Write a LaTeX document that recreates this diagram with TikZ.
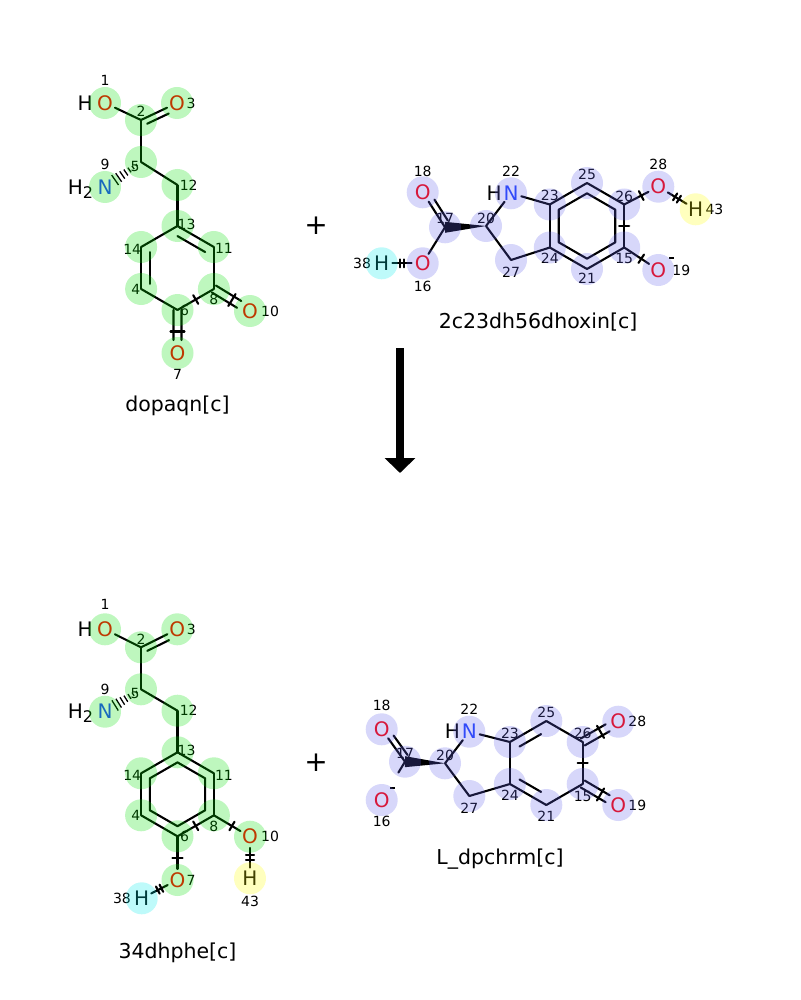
\documentclass[tikz,border=0pt]{standalone}
\usepackage{fontspec}
\setmainfont{DejaVu Sans}
\usetikzlibrary{positioning,calc,arrows.meta}

\definecolor{hlgreen}{RGB}{0,224,0}
\definecolor{hlblue}{RGB}{98,98,235}
\definecolor{hlcyan}{RGB}{0,235,235}
\definecolor{hlyellow}{RGB}{255,255,0}
\definecolor{oxy}{RGB}{255,0,0}
\definecolor{nit}{RGB}{33,66,255}

% second line of a double bond: from, to, cut at from, cut at to, offset
\newcommand\dline[5]{\draw[bond] ($(#1)!#3!(#2)!#5!90:(#2)$) -- ($(#2)!#4!(#1)!#5!-90:(#1)$);}
% marks across a bond
\newcommand\bmark[3][5pt]{\draw[bond] ($(#2)!0.5!(#3)!#1!90:(#3)$) -- ($(#2)!0.5!(#3)!#1!-90:(#3)$);}
\newcommand\bmarks[2]{\foreach \f in {0.45,0.55}
  \draw[bond] ($(#1)!\f!(#2)!4pt!90:(#2)$) -- ($(#1)!\f!(#2)!4pt!-90:(#2)$);}
% wedges
\newcommand\hashbond[2]{\foreach \f/\w in {0.12/1.2,0.22/2,0.32/2.8,0.42/3.6,0.52/4.4,0.62/5.2,0.72/6}
  \draw[line width=1.3pt] ($(#1)!\f!(#2)!\w pt!90:(#2)$) -- ($(#1)!\f!(#2)!\w pt!-90:(#2)$);}
\newcommand\wedgebond[2]{\fill ($(#1)$) -- ($(#2)!5.5pt!90:(#1)$) -- ($(#2)!5.5pt!-90:(#1)$) -- cycle;}
% negative charge
\newcommand\chg{\rule{5pt}{1.8pt}}

\begin{document}
\begin{tikzpicture}[x=1pt,y=1pt,
    atom/.style={circle,inner sep=0pt,minimum size=21pt,font=\fontsize{20}{20}\selectfont},
    catom/.style={circle,inner sep=0pt,minimum size=0pt},
    htext/.style={inner sep=0pt,font=\fontsize{20}{20}\selectfont},
    num/.style={inner sep=0pt,anchor=center,text=black,font=\fontsize{14}{14}\selectfont},
    lab/.style args={#1:#2:#3}{label={[num,label distance=#2pt]#1:#3}},
    bond/.style={line width=2.1pt,line cap=round,line join=round},
    molname/.style={font=\fontsize{20.5}{20.5}\selectfont},
    plus/.style={font=\fontsize{28}{28}\selectfont}]
  \useasboundingbox (0,0) rectangle (800,-1000);

  % dopaqn[c]
  \begin{scope}[name prefix=a-]
    \node[atom,text=oxy,lab=90:12:1] (1) at (105,-103) {O};
    \node[catom,lab=90:8:2] (2) at (141,-120) {};
    \node[atom,text=oxy,lab=0:3:3] (3) at (177,-103) {O};
    \node[catom,lab=215:7:5] (5) at (141,-162) {};
    \node[atom,text=nit,lab=90:12:9] (9) at (105,-187) {N};
    \node[catom,lab=0:11:12] (12) at (177.5,-185) {};
    \node[catom,lab=10:9:13] (13) at (177.5,-226) {};
    \node[catom,lab=-10:10:11] (11) at (213.9,-247) {};
    \node[catom,lab=270:10:8] (8) at (213.9,-289) {};
    \node[catom,lab=0:7:6] (6) at (177.5,-310) {};
    \node[catom,lab=180:5:4] (4) at (141.1,-289) {};
    \node[catom,lab=195:9:14] (14) at (141.1,-247) {};
    \node[atom,text=oxy,lab=270:10:7] (7) at (177.5,-353) {O};
    \node[atom,text=oxy,lab=0:9:10] (10) at (250,-311) {O};
    \node[htext] (1h) [left=1pt of 1] {H};
    \node[htext] (9h) [left=1pt of 9] {H\raisebox{-4pt}[0pt][0pt]{\fontsize{16}{16}\selectfont 2}};
    \coordinate (rc) at (177.5,-268);

    \path[bond] (1) edge (2) (2) edge (3) (2) edge (5) (5) edge (12) (12) edge (13)
      (13) edge (11) (13) edge (14) (14) edge (4) (4) edge (6) (6) edge (8) (8) edge (11);
    \dline{2}{3}{0.1}{0.3}{-6pt}
    \draw[bond] ($(rc)!0.76!(13)$) -- ($(rc)!0.76!(11)$);
    \draw[bond] ($(rc)!0.76!(14)$) -- ($(rc)!0.76!(4)$);
    \dline{6}{7}{0}{0.3}{4pt} \dline{6}{7}{0}{0.3}{-4pt}
    \dline{8}{10}{0}{0.3}{4pt} \dline{8}{10}{0}{0.3}{-4pt}
    \bmark{6}{8} \bmark[7pt]{6}{7} \bmark[7pt]{8}{10}
    \hashbond{5}{9}

    \begin{scope}[transparency group,opacity=0.255]
      \foreach \n in {1,...,14} \fill[hlgreen] (\n) circle (16pt);
    \end{scope}
  \end{scope}

  % 2c23dh56dhoxin[c]
  \begin{scope}[name prefix=b-]
    \node[atom,text=oxy,lab=90:10:18] (18) at (422.7,-192.3) {O};
    \node[catom,lab=90:9:17] (17) at (445,-227.3) {};
    \node[atom,text=oxy,lab=270:12:16] (16) at (422.7,-263.3) {O};
    \node[atom,lab=180:9:38] (38) at (381.7,-263.3) {H};
    \node[catom,lab=90:7:20] (20) at (486,-226) {};
    \node[atom,text=nit,lab=90:11:22] (22) at (511,-193.3) {N};
    \node[catom,lab=270:12:27] (27) at (511,-260) {};
    \node[catom,lab=90:9:23] (23) at (549.8,-204.5) {};
    \node[catom,lab=90:8:25] (25) at (587,-183) {};
    \node[catom,lab=90:8:26] (26) at (624.2,-204.5) {};
    \node[catom,lab=270:11:15] (15) at (624.2,-247.5) {};
    \node[catom,lab=270:9:21] (21) at (587,-269) {};
    \node[catom,lab=270:11:24] (24) at (549.8,-247.5) {};
    \node[atom,text=oxy,lab=90:11:28] (28) at (658.3,-186.7) {O};
    \node[atom,lab=0:8:43] (43) at (695.7,-209.3) {H};
    \node[atom,text=oxy,lab=0:12:19,lab=42:7:\chg] (19) at (658.3,-270) {O};
    \node[htext] (22h) [left=-1.5pt of 22] {H};
    \coordinate (rc) at (587,-226);

    \path[bond] (17) edge (18) (17) edge (16) (16) edge (38) (20) edge (22) (20) edge (27)
      (27) edge (24) (22) edge (23) (23) edge (25) (25) edge (26) (26) edge (15)
      (15) edge (21) (21) edge (24) (24) edge (23) (26) edge (28) (28) edge (43) (15) edge (19);
    \dline{17}{18}{0.1}{0.3}{-6pt}
    \draw[bond] ($(rc)!0.76!(23)$) -- ($(rc)!0.76!(25)$) -- ($(rc)!0.76!(26)$)
      -- ($(rc)!0.76!(15)$) -- ($(rc)!0.76!(21)$) -- ($(rc)!0.76!(24)$) -- cycle;
    \wedgebond{20}{17}
    \bmarks{16}{38} \bmarks{28}{43}
    \bmark{26}{28} \bmark{26}{15} \bmark{15}{19}

    \begin{scope}[transparency group,opacity=0.255]
      \foreach \n in {15,...,28} \fill[hlblue] (\n) circle (16pt);
      \fill[hlcyan] (38) circle (16pt);
      \fill[hlyellow] (43) circle (16pt);
    \end{scope}
  \end{scope}

  % 34dhphe[c]
  \begin{scope}[name prefix=c-]
    \node[atom,text=oxy,lab=90:14:1] (1) at (105,-629.3) {O};
    \node[catom,lab=90:8:2] (2) at (141,-647.3) {};
    \node[atom,text=oxy,lab=0:3:3] (3) at (177.3,-629.3) {O};
    \node[catom,lab=215:7:5] (5) at (141,-689.3) {};
    \node[atom,text=nit,lab=90:12:9] (9) at (105,-711.7) {N};
    \node[catom,lab=0:11:12] (12) at (177.5,-710.7) {};
    \node[catom,lab=10:9:13] (13) at (177.5,-752.3) {};
    \node[catom,lab=-10:10:11] (11) at (213.9,-773.3) {};
    \node[catom,lab=270:11:8] (8) at (213.9,-815.3) {};
    \node[catom,lab=0:7:6] (6) at (177.5,-836.3) {};
    \node[catom,lab=180:5:4] (4) at (141.1,-815.3) {};
    \node[catom,lab=195:9:14] (14) at (141.1,-773.3) {};
    \node[atom,text=oxy,lab=0:2.5:7] (7) at (177.5,-880) {O};
    \node[atom,text=oxy,lab=0:9:10] (10) at (250,-836.7) {O};
    \node[atom,lab=180:9:38] (38) at (141.7,-898.3) {H};
    \node[atom,lab=270:12:43] (43) at (250,-878.3) {H};
    \node[htext] (1h) [left=1pt of 1] {H};
    \node[htext] (9h) [left=1pt of 9] {H\raisebox{-4pt}[0pt][0pt]{\fontsize{16}{16}\selectfont 2}};
    \coordinate (rc) at (177.5,-794.3);

    \path[bond] (1) edge (2) (2) edge (3) (2) edge (5) (5) edge (12) (12) edge (13)
      (13) edge (11) (11) edge (8) (8) edge (6) (6) edge (4) (4) edge (14) (14) edge (13)
      (6) edge (7) (7) edge (38) (8) edge (10) (10) edge (43);
    \dline{2}{3}{0.1}{0.3}{-6pt}
    \draw[bond] ($(rc)!0.76!(13)$) -- ($(rc)!0.76!(11)$) -- ($(rc)!0.76!(8)$)
      -- ($(rc)!0.76!(6)$) -- ($(rc)!0.76!(4)$) -- ($(rc)!0.76!(14)$) -- cycle;
    \bmark{6}{8} \bmark{6}{7} \bmark{8}{10}
    \bmarks{7}{38} \bmarks{10}{43}
    \hashbond{5}{9}

    \begin{scope}[transparency group,opacity=0.255]
      \foreach \n in {1,...,14} \fill[hlgreen] (\n) circle (16pt);
      \fill[hlcyan] (38) circle (16pt);
      \fill[hlyellow] (43) circle (16pt);
    \end{scope}
  \end{scope}

  % L_dpchrm[c]
  \begin{scope}[name prefix=d-]
    \node[atom,text=oxy,lab=90:13:18] (18) at (381.7,-729.3) {O};
    \node[catom,lab=90:8:17] (17) at (405,-761.7) {};
    \node[atom,text=oxy,lab=270:10:16,lab=47:5:\chg] (16) at (381.7,-800) {O};
    \node[catom,lab=90:8:20] (20) at (445,-763.3) {};
    \node[atom,text=nit,lab=90:12:22] (22) at (469.3,-731.7) {N};
    \node[catom,lab=270:12:27] (27) at (469.3,-796) {};
    \node[catom,lab=90:8:23] (23) at (509.9,-742) {};
    \node[catom,lab=90:8:25] (25) at (546.3,-721) {};
    \node[catom,lab=90:8:26] (26) at (582.7,-742) {};
    \node[catom,lab=270:12:15] (15) at (582.7,-784) {};
    \node[catom,lab=270:11:21] (21) at (546.3,-805) {};
    \node[catom,lab=270:11:24] (24) at (509.9,-784) {};
    \node[atom,text=oxy,lab=0:8:28] (28) at (618.3,-721.7) {O};
    \node[atom,text=oxy,lab=0:8:19] (19) at (618.3,-805) {O};
    \node[htext] (22h) [left=-1.5pt of 22] {H};
    \coordinate (rc) at (546.3,-763);

    \path[bond] (17) edge (18) (20) edge (22) (20) edge (27) (27) edge (24) (22) edge (23)
      (23) edge (25) (25) edge (26) (26) edge (15) (15) edge (21) (21) edge (24) (24) edge (23);
    \draw[bond,shorten >=21pt] (17) -- (16);
    \dline{17}{18}{0.1}{0.3}{-6pt}
    \draw[bond,shorten <=1pt,shorten >=6pt] ($(rc)!0.76!(23)$) -- ($(rc)!0.76!(25)$);
    \draw[bond,shorten <=1pt,shorten >=6pt] ($(rc)!0.76!(24)$) -- ($(rc)!0.76!(21)$);
    \dline{26}{28}{0}{0.3}{4pt} \dline{26}{28}{0}{0.3}{-4pt}
    \dline{15}{19}{0}{0.3}{4pt} \dline{15}{19}{0}{0.3}{-4pt}
    \wedgebond{20}{17}
    \bmark{26}{15} \bmark[7pt]{26}{28} \bmark[7pt]{15}{19}

    \begin{scope}[transparency group,opacity=0.255]
      \foreach \n in {15,...,28} \fill[hlblue] (\n) circle (16pt);
    \end{scope}
  \end{scope}

  \node[molname] (dopaqn) at (177.5,-405.5) {dopaqn[c]};
  \node[molname] (dhoxin) at (538,-322) {2c23dh56dhoxin[c]};
  \node[molname] (dhphe) at (177.5,-953) {34dhphe[c]};
  \node[molname] (dpchrm) at (500,-859) {L\_dpchrm[c]};
  \node[plus] (plus1) at (316,-226) {+};
  \node[plus] (plus2) at (316,-763) {+};

  \coordinate (rtop) at (400,-348);
  \coordinate (rtip) at (400,-473);
  \draw[line width=8.5pt,-{Triangle[width=30pt,length=15pt]}] (rtop) -- (rtip);
\end{tikzpicture}
\end{document}
